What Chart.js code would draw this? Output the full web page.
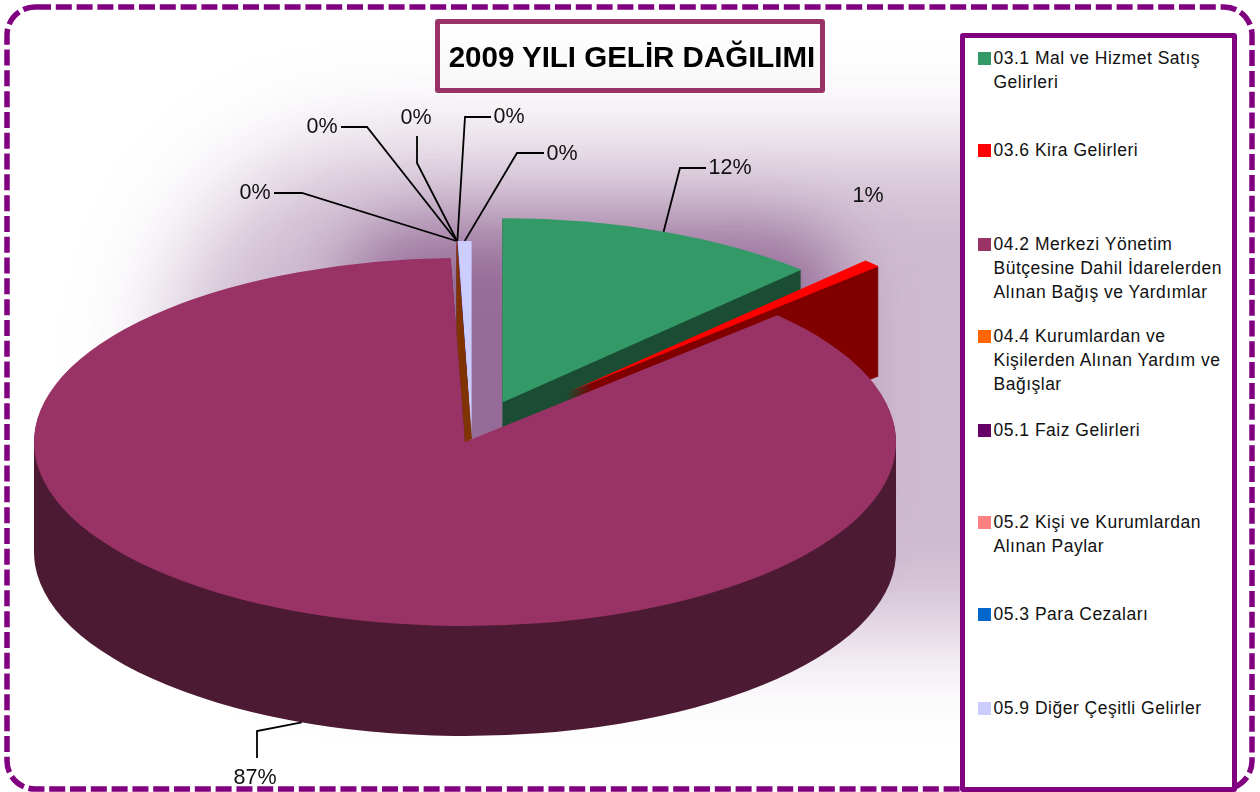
<!DOCTYPE html>
<html>
<head>
<meta charset="utf-8">
<script src="https://cdn.jsdelivr.net/npm/chart.js@4"></script>
<style>
  body { margin: 0; background: #fff; font-family: "Liberation Sans", Arial, sans-serif; }
  #wrap { position: relative; width: 1260px; height: 792px; overflow: hidden; }
  canvas { position: absolute; left: 0; top: 0; }
  #title {
    position: absolute; left: 435px; top: 19px; width: 390px; height: 74px; box-sizing: border-box;
    border: 5px solid #993366; border-radius: 3px; background: linear-gradient(#fff, #f8f6f8); padding-left: 4px;
    font-weight: bold; font-size: 29.5px; line-height: 66px; text-align: center; color: #000; white-space: nowrap;
  }
  #legend {
    position: absolute; left: 960px; top: 33px; width: 277px; height: 759px; box-sizing: border-box;
    border: 5.5px solid #800080; border-radius: 3px; background: #fff;
  }
  .item { position: absolute; left: 28.5px; font-size: 17.5px; line-height: 24px; letter-spacing: .5px; color: #111; white-space: pre; }
  .swatch { position: absolute; left: -16px; top: 6px; width: 13px; height: 13px; }
</style>
</head>
<body>
<div id="wrap">
  <canvas id="pie" width="1260" height="792"></canvas>
  <div id="title">2009 YILI GELİR DAĞILIMI</div>
  <div id="legend"></div>
</div>
<script>
const categories = [
  '03.1 Mal ve Hizmet Satış\nGelirleri',
  '03.6 Kira Gelirleri',
  '04.2 Merkezi Yönetim\nBütçesine Dahil İdarelerden\nAlınan Bağış ve Yardımlar',
  '04.4 Kurumlardan ve\nKişilerden Alınan Yardım ve\nBağışlar',
  '05.1 Faiz Gelirleri',
  '05.2 Kişi ve Kurumlardan\nAlınan Paylar',
  '05.3 Para Cezaları',
  '05.9 Diğer Çeşitli Gelirler',
];
const values = [12.2, 0.7, 86.57, 0.01, 0.01, 0.01, 0.01, 0.49];

const sliceColors = ['#339966', '#FF0000', '#993366', '#FF6600', '#660066', '#FF8080', '#0066CC', '#CCCCFF'];
const sideColors = ['#1A4D33', '#800000', '#4D1A33', '#7F3300', '#330033', '#804040', '#003366', '#CCCCFF'];
const sliceOffsets = [100, 143, 0, 40, 40, 40, 40, 40];
// small corrections on top of what the explosion alone gives
const sliceNudge = [[0, 0], [0, -6], [0, 0], [7, 0], [7, 0], [7, 0], [7, 0], [7, 0]];

const legendRows = [46, 138, 232, 324, 418, 510, 602, 696];

const labelSpots = [
  { bend: [680, 168], end: [706, 168], text: [730, 167] },
  { text: [868, 195] },
  { bend: [257, 731], end: [257, 758], text: [255, 777] },
  { bend: [302, 193], end: [274, 193], text: [255, 192] },
  { bend: [367, 127], end: [341, 127], text: [322, 126] },
  { bend: [417, 163], end: [417, 136], text: [416, 117] },
  { bend: [465, 117], end: [491, 117], text: [509, 116] },
  { bend: [517, 153], end: [544, 153], text: [562, 153] },
];

const TILT = 0.427;
const DEPTH = 110;

const legendDiv = document.getElementById('legend');
categories.forEach((name, i) => {
  const row = document.createElement('div');
  row.className = 'item';
  row.style.top = (legendRows[i] - 33 - 5.5) + 'px';
  row.textContent = name;
  const sw = document.createElement('span');
  sw.className = 'swatch';
  sw.style.background = sliceColors[i];
  row.appendChild(sw);
  legendDiv.appendChild(row);
});

function centerOf(arc, i) {
  const mid = (arc.startAngle + arc.endAngle) / 2;
  const off = sliceOffsets[i];
  return { x: arc.x + Math.cos(mid) * off, y: arc.y + Math.sin(mid) * off, mid };
}

// rim point of a slice after the squash, used for the leader lines
function rimPoint(arc, i, depth) {
  const c = centerOf(arc, i);
  return [
    c.x + Math.cos(c.mid) * arc.outerRadius + sliceNudge[i][0],
    arc.y + (c.y - arc.y + Math.sin(c.mid) * arc.outerRadius) * TILT + depth + sliceNudge[i][1],
  ];
}

// adds the squashed slice to the current path, the ctx transform only applies to this piece
function addSlice(ctx, arc, i, depth) {
  const c = centerOf(arc, i);
  ctx.save();
  ctx.translate(sliceNudge[i][0], arc.y + depth + sliceNudge[i][1]);
  ctx.scale(1, TILT);
  ctx.translate(0, -arc.y);
  ctx.moveTo(c.x, c.y);
  ctx.arc(c.x, c.y, arc.outerRadius, arc.startAngle, arc.endAngle);
  ctx.closePath();
  ctx.restore();
}

function drawSlice(ctx, arc, i) {
  // all the layers of the wall go in one path so no seams show
  ctx.fillStyle = sideColors[i];
  ctx.beginPath();
  for (let d = DEPTH; d > 0; d--) addSlice(ctx, arc, i, d);
  ctx.fill();
  ctx.fillStyle = sliceColors[i];
  ctx.beginPath();
  addSlice(ctx, arc, i, 0);
  ctx.fill();
}

function drawShadow(ctx) {
  ctx.save();
  ctx.beginPath();
  ctx.rect(0, 0, 960, 792);
  ctx.clip();
  ctx.fillStyle = '#7D4A80';
  ctx.filter = 'blur(50px)';
  ctx.globalAlpha = 0.38;
  ctx.beginPath();
  ctx.roundRect(170, 150, 1200, 483, 200);
  ctx.fill();
  ctx.filter = 'blur(35px)';
  ctx.globalAlpha = 0.7;
  ctx.beginPath();
  ctx.roundRect(350, 228, 490, 335, 60);
  ctx.fill();
  ctx.restore();
}

const pie3d = {
  id: 'pie3d',
  beforeDatasetDraw(chart) {
    const ctx = chart.ctx;
    const arcs = chart.getDatasetMeta(0).data;

    drawShadow(ctx);

    // back to front
    [7, 6, 5, 4, 3, 0, 1, 2].forEach(i => drawSlice(ctx, arcs[i], i));

    // cut face of the small slices, seen between the big slice and the last one
    const tip = rimPoint(arcs[3], 3, 0);
    ctx.fillStyle = sideColors[3];
    ctx.beginPath();
    ctx.moveTo(tip[0], tip[1]);
    ctx.lineTo(arcs[2].x, arcs[2].y);
    ctx.lineTo(arcs[2].x + 7, arcs[2].y - 3);
    ctx.closePath();
    ctx.fill();
    return false;
  },
  afterDatasetsDraw(chart) {
    const ctx = chart.ctx;
    const arcs = chart.getDatasetMeta(0).data;
    const total = values.reduce((a, b) => a + b, 0);

    ctx.save();
    ctx.strokeStyle = '#000';
    ctx.lineWidth = 1.8;
    ctx.fillStyle = '#111';
    ctx.font = '21.5px "Liberation Sans", Arial, sans-serif';
    ctx.textAlign = 'center';
    ctx.textBaseline = 'middle';
    labelSpots.forEach((spot, i) => {
      if (spot.bend) {
        // the big slice's leader lands on the lower edge of its side wall
        const start = rimPoint(arcs[i], i, i === 2 ? DEPTH : 0);
        ctx.beginPath();
        ctx.moveTo(start[0], start[1]);
        ctx.lineTo(spot.bend[0], spot.bend[1]);
        ctx.lineTo(spot.end[0], spot.end[1]);
        ctx.stroke();
      }
      ctx.fillText(Math.round(values[i] / total * 100) + '%', spot.text[0], spot.text[1] + 1.5);
    });
    ctx.restore();

    // dashed outer frame
    ctx.save();
    ctx.strokeStyle = '#800080';
    ctx.lineWidth = 5.5;
    ctx.setLineDash([16, 4.8]);
    ctx.beginPath();
    ctx.roundRect(7, 7, 1245, 782, 28);
    ctx.stroke();
    ctx.restore();
  }
};

new Chart(document.getElementById('pie'), {
  type: 'pie',
  data: {
    labels: categories,
    datasets: [{
      data: values,
      backgroundColor: sliceColors,
      offset: sliceOffsets,
      borderWidth: 0,
    }]
  },
  options: {
    responsive: false,
    animation: false,
    radius: 431,
    layout: { padding: { top: 92, right: 330 } },
    plugins: { legend: { display: false }, tooltip: { enabled: false } },
  },
  plugins: [pie3d],
});
</script>
</body>
</html>
